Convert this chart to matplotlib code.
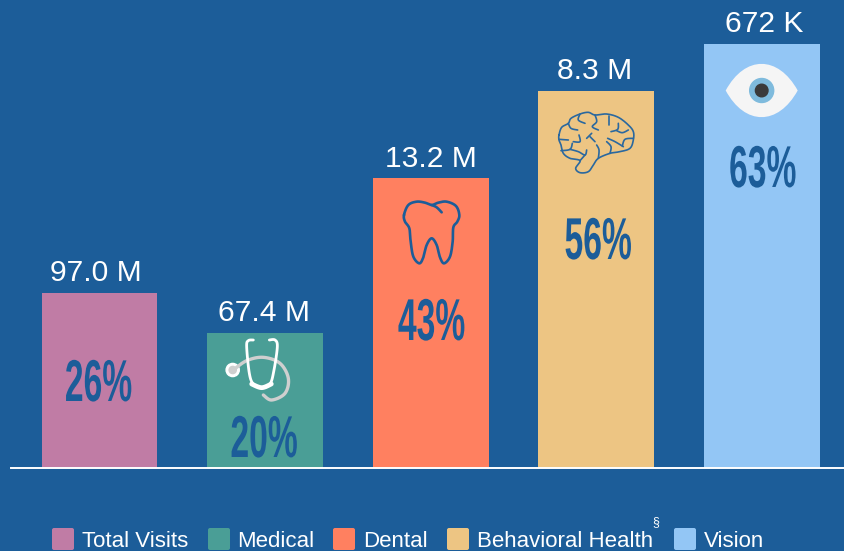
import matplotlib
matplotlib.use('Agg')
import matplotlib.pyplot as plt
import numpy as np
from matplotlib.patches import Circle, FancyBboxPatch, PathPatch
from matplotlib.path import Path
from matplotlib.patheffects import AbstractPathEffect
from matplotlib.transforms import Affine2D

plt.rcParams['font.family'] = ['Liberation Sans', 'DejaVu Sans']

categories = ['Total Visits', 'Medical', 'Dental', 'Behavioral Health', 'Vision']
percents = [26, 20, 43, 56, 63]
counts = ['97.0 M', '67.4 M', '13.2 M', '8.3 M', '672 K']
colors = ['#C07CA5', '#4A9E96', '#FF8060', '#EDC583', '#93C6F5']
bg = '#1C5D99'

W, H = 844, 551
base_y = 467.5
px_per_pct = 6.73
slot = 165.55
first_x = 99.5


class Squeeze(AbstractPathEffect):
    # narrows text around its centre, no condensed bold font is installed
    def __init__(self, cx, sx):
        super().__init__()
        self.cx = cx
        self.sx = sx

    def draw_path(self, renderer, gc, tpath, affine, rgbFace=None):
        squeeze = Affine2D().translate(-self.cx, 0).scale(self.sx, 1).translate(self.cx, 0)
        renderer.draw_path(gc, tpath, affine + squeeze, rgbFace)


def smooth(pts, closed=False, n=12):
    # catmull-rom through the icon outline points
    p = np.array(pts, float)
    if closed:
        p = np.vstack([p[-1], p, p[0], p[1]])
    else:
        p = np.vstack([p[0], p, p[-1]])
    out = []
    t = np.linspace(0, 1, n)[:, None]
    for i in range(1, len(p) - 2):
        a, b, c, d = p[i - 1], p[i], p[i + 1], p[i + 2]
        out.append(0.5 * (2 * b + (c - a) * t + (2 * a - 5 * b + 4 * c - d) * t**2 + (3 * b - a - 3 * c + d) * t**3))
    return np.vstack(out)


def icon_line(ax, pts, ox, oy, color, lw, closed=False):
    xy = smooth(pts, closed) / 3 + [ox, oy]
    ax.plot(xy[:, 0], xy[:, 1], color=color, lw=lw, solid_capstyle='round', solid_joinstyle='round')


fig = plt.figure(figsize=(W / 100, H / 100), dpi=100, facecolor=bg)
ax = fig.add_axes([0, 0, 1, 1], facecolor=bg)
ax.set_xlim((0 - first_x) / slot, (W - first_x) / slot)
ax.set_ylim((base_y - H) / px_per_pct, base_y / px_per_pct)
ax.axis('off')

x = np.arange(len(categories))
bars = ax.bar(x, percents, width=0.7, color=colors)
count_dx = [-3.5, -1, 0, -1.5, 2]
for xi, p, c, dx in zip(x, percents, counts, count_dx):
    ax.annotate(c, (xi, p), xytext=(dx, 11.5), textcoords='offset pixels', ha='center', va='baseline',
                color='white', fontsize=21.6)

# overlay in pixel coordinates for icons, big labels and legend
px = fig.add_axes([0, 0, 1, 1], facecolor='none')
px.set_xlim(0, W)
px.set_ylim(H, 0)
px.axis('off')

px.plot([11, W], [base_y, base_y], color='white', lw=1.4)

pct_y = [401, 457, 340, 259, 187]
pct_dx = [-1, -1, 1, 2, 1]
for i, (p, y, dx) in enumerate(zip(percents, pct_y, pct_dx)):
    cx = first_x + slot * i + dx
    t = px.text(cx, y, f'{p}%', ha='center', va='baseline', color=bg, fontsize=42.5, fontweight='bold')
    t.set_path_effects([Squeeze(cx, 0.57)])

# stethoscope
grey = '#CFCFCF'
icon_line(px, [(100, 150), (140, 122), (190, 112), (240, 130), (265, 175), (255, 220), (215, 240), (190, 225)],
          200, 320, grey, 2.4)
icon_line(px, [(160, 60), (145, 62), (140, 80), (148, 160), (160, 192), (185, 203), (210, 192), (222, 150), (232, 80),
               (225, 60), (208, 60)], 200, 320, 'white', 2)
icon_line(px, [(155, 192), (185, 203), (214, 192)], 200, 320, 'white', 3.4)
px.add_patch(Circle((232.7, 370), 6.6, color='white'))
px.add_patch(Circle((232.7, 370), 3.6, color=grey))

# tooth
icon_line(px, [(102, 135), (115, 105), (140, 95), (165, 98), (185, 105), (205, 98), (230, 95), (258, 108), (268, 135),
               (262, 155), (250, 172), (248, 215), (240, 260), (222, 280), (210, 262), (200, 225), (185, 205), (170, 225),
               (160, 262), (148, 280), (130, 260), (122, 215), (118, 175), (105, 155)],
          370, 170, bg, 1.9, closed=True)
icon_line(px, [(215, 127), (200, 112), (185, 105)], 370, 170, bg, 1.9)

# brain
brain = '#2A689F'
icon_line(px, [(72, 135), (80, 112), (100, 100), (108, 85), (135, 72), (160, 67), (180, 75), (215, 72), (250, 82), (280, 105),
               (295, 125), (295, 150), (285, 175), (255, 185), (225, 190), (190, 205), (175, 225), (160, 245), (135, 248),
               (122, 235), (135, 212), (105, 205), (85, 190), (78, 165), (72, 150)], 535, 90, brain, 1.2, closed=True)
folds = [
    [(100, 100), (108, 115), (128, 120)], [(135, 72), (130, 90), (150, 100)],
    [(180, 75), (185, 95), (172, 110), (190, 120)], [(222, 78), (222, 105)],
    [(250, 100), (248, 118), (228, 125)], [(280, 120), (262, 128), (245, 122)],
    [(295, 145), (270, 148), (262, 168)], [(218, 145), (240, 155), (265, 170)],
    [(72, 148), (100, 150)], [(78, 182), (105, 178), (112, 160)],
    [(115, 155), (135, 155), (132, 135)], [(155, 145), (170, 130)], [(165, 140), (180, 155)],
    [(105, 178), (130, 185), (150, 195), (155, 180)], [(150, 195), (135, 212)],
    [(190, 205), (192, 180), (185, 165)], [(225, 190), (228, 170), (215, 155)],
]
for f in folds:
    icon_line(px, f, 535, 90, brain, 1.2)

# eye
lens = Path([(725.7, 90.5), (745, 55), (778, 55), (797.7, 90.5), (778, 126), (745, 126), (725.7, 90.5)],
            [Path.MOVETO, Path.CURVE4, Path.CURVE4, Path.CURVE4, Path.CURVE4, Path.CURVE4, Path.CURVE4])
px.add_patch(PathPatch(lens, facecolor='#F5F5F5', edgecolor='none'))
px.add_patch(Circle((761.7, 90.5), 12, color='#7FBBDD'))
px.add_patch(Circle((761.7, 90.5), 6.3, color='#3A3A3A'))

# legend
swatch_x = [52, 208, 333, 447, 674]
label_x = [82, 237, 363, 477, 704]
for sx, lx, c, name in zip(swatch_x, label_x, colors, categories):
    px.add_patch(FancyBboxPatch((sx + 2, 530), 18, 18, boxstyle='round,pad=2', facecolor=c, edgecolor='none'))
    px.text(lx, 547, name, ha='left', va='baseline', color='white', fontsize=16)
px.text(656, 525, '§', ha='center', va='baseline', color='white', fontsize=9)

fig.savefig('out.png', dpi=100, facecolor=bg)
